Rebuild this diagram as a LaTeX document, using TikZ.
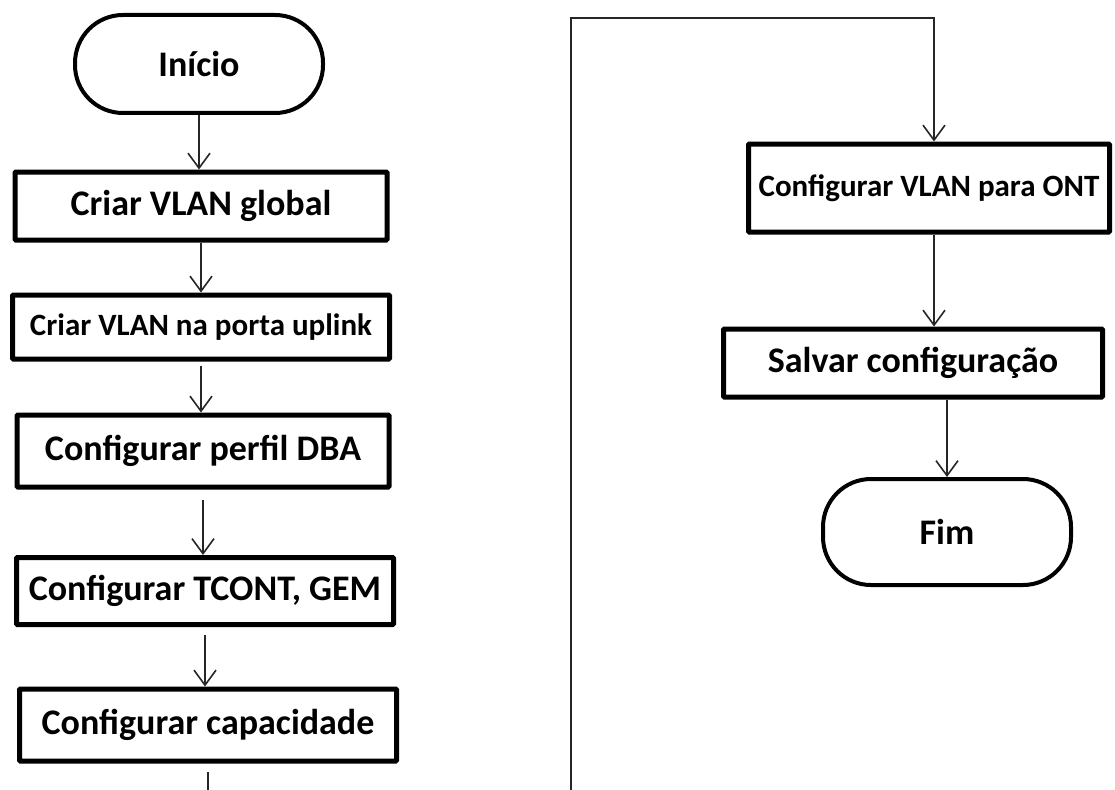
\documentclass[tikz,border=0pt]{standalone}
\usepackage{fontspec}
\setmainfont{Carlito}
\usetikzlibrary{arrows.meta}

\begin{document}
\begin{tikzpicture}[x=1pt,y=-1pt,
    terminal/.style={draw, line width=4pt, rounded corners=48pt,
      font=\bfseries\fontsize{36}{42}\selectfont},
    procbox/.style={draw, line width=5pt, rounded corners=1pt,
      font=\bfseries\fontsize{36}{42}\selectfont},
    smalltext/.style={font=\bfseries\fontsize{31}{37}\selectfont},
    flow/.style={draw=black!85, line width=1.6pt,
      -{Straight Barb[length=15pt,width=22pt,line width=1.6pt]}}]
  \useasboundingbox (0,0) rectangle (1115,789);
  \clip (0,0) rectangle (1115,789);
  % left column
  \node[terminal, minimum width=248pt, minimum height=98pt] (inicio) at (199,64) {Início};
  \node[procbox, minimum width=372pt, minimum height=68pt] (vlanglobal) at (201,206) {Criar VLAN global};
  \node[procbox, smalltext, minimum width=377pt, minimum height=64pt] (vlanuplink) at (201,327) {Criar VLAN na porta uplink};
  \node[procbox, minimum width=372pt, minimum height=72pt] (perfildba) at (203,451) {Configurar perfil DBA};
  \node[procbox, minimum width=377pt, minimum height=67pt] (tcontgem) at (205,591) {Configurar TCONT, GEM};
  \node[procbox, minimum width=377pt, minimum height=72pt] (capacidade) at (208,725) {Configurar capacidade};
  % right column
  \node[procbox, smalltext, minimum width=361pt, minimum height=88pt] (vlanont) at (929,188) {Configurar VLAN para ONT};
  \node[procbox, minimum width=379pt, minimum height=68pt] (salvar) at (913,363) {Salvar configuração};
  \node[terminal, minimum width=248pt, minimum height=106pt] (fim) at (947,532) {Fim};
  \coordinate (volta) at (571,18);

  \draw[flow] (inicio.south) -- (inicio.south |- vlanglobal.north);
  \draw[flow] (vlanglobal.south) -- (vlanglobal.south |- vlanuplink.north);
  \draw[flow] ([yshift=-4pt]vlanuplink.south) -- (vlanuplink.south |- perfildba.north);
  \draw[flow] ([yshift=-10pt]perfildba.south) -- (perfildba.south |- tcontgem.north);
  \draw[flow] ([yshift=-8pt]tcontgem.south) -- (tcontgem.south |- capacidade.north);
  \draw[flow] ([yshift=-8pt]capacidade.south) -- ++(0,60) -| (volta) -| ([xshift=5pt]vlanont.north);
  \draw[flow] ([xshift=5pt]vlanont.south) -- ([xshift=5pt]vlanont.south |- salvar.north);
  \draw[flow] (fim.north |- salvar.south) -- (fim.north);
\end{tikzpicture}
\end{document}
